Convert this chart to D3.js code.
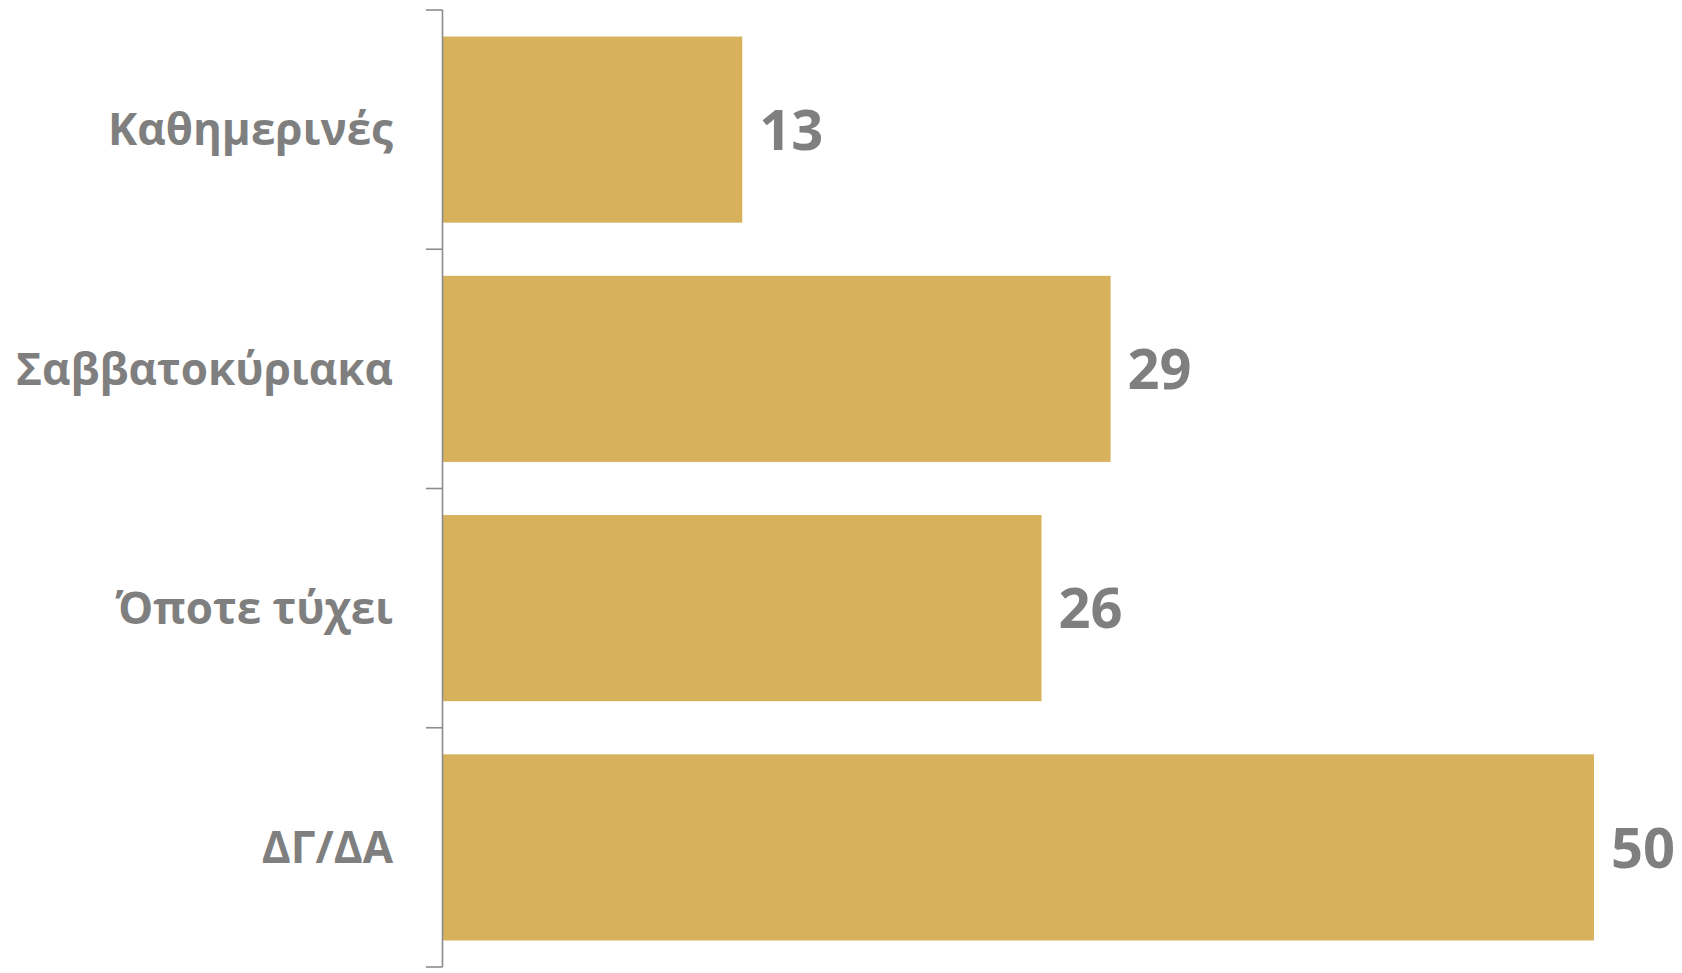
<!DOCTYPE html>
<meta charset="utf-8">
<style>
body { margin: 0; background: #fff; }
text { font-family: "Open Sans", sans-serif; font-weight: 700; fill: #7f7f7f; }
.axis path, .axis line { stroke: #8c8c8c; stroke-width: 1.6px; }
</style>
<body>
<script src="https://cdnjs.cloudflare.com/ajax/libs/d3/7.8.5/d3.min.js"></script>
<script>
// data
var categories = ["Καθημερινές", "Σαββατοκύριακα", "Όποτε τύχει", "ΔΓ/ΔΑ"];
var values = [13, 29, 26, 50];

var width = 1682, height = 973;
var margin = {top: 10, right: 88, bottom: 6, left: 443};

var svg = d3.select("body").append("svg")
    .attr("width", width)
    .attr("height", height);

var x = d3.scaleLinear().domain([0, 50]).range([margin.left, width - margin.right]);
var y = d3.scaleBand().domain(categories)
    .range([margin.top, height - margin.bottom])
    .paddingInner(0.222).paddingOuter(0.111);

var rows = categories.map(function(c, i) { return {cat: c, val: values[i]}; });

// bars
svg.selectAll("rect.bar")
  .data(rows)
  .enter().append("rect")
    .attr("class", "bar")
    .attr("x", x(0))
    .attr("y", function(d) { return y(d.cat); })
    .attr("width", function(d) { return x(d.val) - x(0); })
    .attr("height", y.bandwidth())
    .attr("fill", "#d8b15d");

// y axis, ticks sit between the bands
var step = y.step();
var tickVals = d3.range(categories.length + 1).map(function(i) { return margin.top + i * step; });
var axisG = svg.append("g").attr("class", "axis");
axisG.append("path")
    .attr("d", "M" + (x(0) - 0.5) + "," + tickVals[0] + "V" + tickVals[tickVals.length - 1])
    .attr("fill", "none");
axisG.selectAll("line")
  .data(tickVals)
  .enter().append("line")
    .attr("x1", x(0) - 17).attr("x2", x(0) - 0.5)
    .attr("y1", function(d) { return d; })
    .attr("y2", function(d) { return d; });

// category labels
var cats = svg.selectAll("text.cat")
  .data(rows)
  .enter().append("text")
    .attr("class", "cat")
    .attr("x", 393)
    .attr("y", function(d) { return y(d.cat) + y.bandwidth() / 2; })
    .attr("dy", "0.36em")
    .attr("text-anchor", "end")
    .style("font-size", "44px")
    .text(function(d) { return d.cat; });

// first label is drawn narrower in the original
cats.filter(function(d, i) { return i === 0; })
    .attr("textLength", 285)
    .attr("lengthAdjust", "spacingAndGlyphs");

// value labels
svg.selectAll("text.val")
  .data(rows)
  .enter().append("text")
    .attr("class", "val")
    .attr("x", function(d) { return x(d.val) + 17; })
    .attr("y", function(d) { return y(d.cat) + y.bandwidth() / 2; })
    .attr("dy", "0.36em")
    .style("font-size", "56px")
    .text(function(d) { return d.val; });
</script>
</body>
